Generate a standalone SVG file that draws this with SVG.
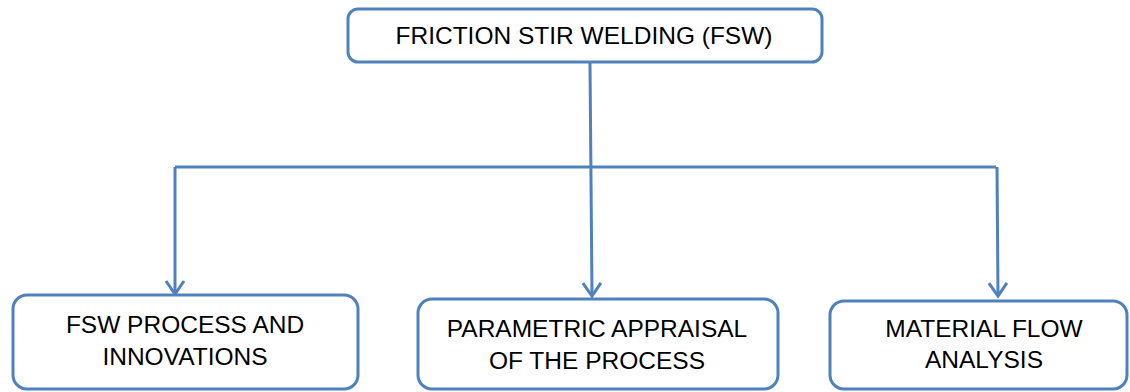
<svg xmlns="http://www.w3.org/2000/svg" width="1130" height="392" viewBox="0 0 1130 392">
  <style>
    .box { fill: #ffffff; stroke: #4f81bd; stroke-width: 3; }
    .lbl { font-family: "Liberation Sans", Arial, sans-serif; font-size: 24.5px; fill: #000000; text-anchor: middle; }
    .wire { fill: none; stroke: #4f81bd; stroke-width: 3; }
  </style>
  <defs>
    <!-- open chevron arrowhead -->
    <marker id="chev" markerWidth="26" markerHeight="24" refX="14" refY="12" orient="auto" markerUnits="userSpaceOnUse">
      <path d="M1,3 L14,12 L1,21" fill="none" stroke="#4f81bd" stroke-width="3"/>
    </marker>
  </defs>
  <g id="connectors">
    <path class="wire" d="M590,63 L592,296" marker-end="url(#chev)"/>
    <path class="wire" d="M175,167 L996,167"/>
    <path class="wire" d="M175,167 L175,294" marker-end="url(#chev)"/>
    <path class="wire" d="M997,167 L998,296" marker-end="url(#chev)"/>
  </g>
  <g id="fsw">
    <rect class="box" x="348" y="9" width="474" height="53" rx="10"/>
    <text class="lbl" x="584" y="44">FRICTION STIR WELDING (FSW)</text>
  </g>
  <g id="process">
    <rect class="box" x="13" y="295" width="345" height="94" rx="14"/>
    <text class="lbl" x="185" y="333">FSW PROCESS AND</text>
    <text class="lbl" x="185" y="365">INNOVATIONS</text>
  </g>
  <g id="appraisal">
    <rect class="box" x="418" y="299" width="360" height="90" rx="14"/>
    <text class="lbl" x="597" y="337">PARAMETRIC APPRAISAL</text>
    <text class="lbl" x="597" y="369">OF THE PROCESS</text>
  </g>
  <g id="flow">
    <rect class="box" x="830" y="301" width="297" height="88" rx="14"/>
    <text class="lbl" x="984" y="337">MATERIAL FLOW</text>
    <text class="lbl" x="984" y="368">ANALYSIS</text>
  </g>
</svg>
